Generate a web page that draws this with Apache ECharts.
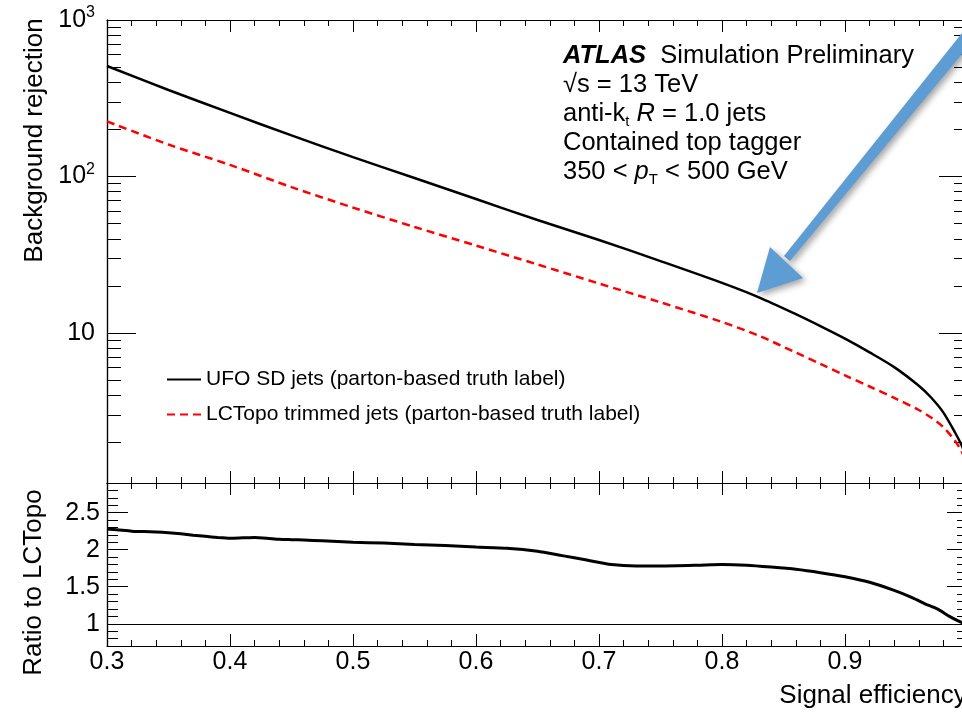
<!DOCTYPE html>
<html>
<head>
<meta charset="utf-8">
<script src="https://cdn.jsdelivr.net/npm/echarts@6/dist/echarts.min.js"></script>
<style>
html,body{margin:0;padding:0;background:#fff;}
#chart{width:962px;height:712px;}
</style>
</head>
<body>
<div id="chart"></div>
<script>
// ---- Data ----
const effTop = [0.30,0.35,0.40,0.45,0.50,0.55,0.60,0.65,0.70,0.75,0.80,0.83,0.86,0.88,0.90,0.92,0.94,0.96,0.97,0.98,0.99,0.995,0.998];
const ufoRejection = [508,357,255,183,133,97.8,71.8,52.7,39.3,28.8,20.9,16.9,13.2,11.07,9.2,7.52,6.05,4.6,3.87,3.1,2.27,1.90,1.64];
const lcTopoRejection = [225,160,118.6,85.5,63.3,47.6,36.2,27.4,20.7,15.7,11.75,9.6,7.5,6.34,5.36,4.55,3.85,3.22,2.88,2.50,2.02,1.74,1.55];

const effRatio = [0.300,0.310,0.320,0.330,0.340,0.350,0.360,0.370,0.380,0.390,0.400,0.410,0.420,0.430,0.440,0.450,0.460,0.475,0.500,0.525,0.550,0.575,0.600,0.625,0.650,0.670,0.690,0.710,0.730,0.750,0.780,0.800,0.820,0.840,0.860,0.880,0.900,0.920,0.940,0.955,0.965,0.975,0.985,0.992,0.997];
const ratioValues = [2.28,2.265,2.25,2.245,2.24,2.23,2.215,2.195,2.18,2.165,2.155,2.16,2.165,2.155,2.14,2.135,2.13,2.12,2.10,2.09,2.07,2.055,2.035,2.02,1.98,1.92,1.86,1.80,1.78,1.78,1.79,1.80,1.79,1.765,1.735,1.69,1.635,1.56,1.45,1.35,1.27,1.20,1.10,1.04,1.00];

const topMajorTicks = [10,100,1000];
const topMinorTicks = [2,3,4,5,6,7,8,9,20,30,40,50,60,70,80,90,200,300,400,500,600,700,800,900];
const ratioMajorTicks = [1,1.5,2,2.5];
const ratioMinorTicks = [0.8,0.9,1.1,1.2,1.3,1.4,1.6,1.7,1.8,1.9,2.1,2.2,2.3,2.4,2.6,2.7,2.8];

const seriesNames = ['UFO SD jets (parton-based truth label)','LCTopo trimmed jets (parton-based truth label)'];

// ---- Chart ----
const FONT = '"Liberation Sans", Arial, Helvetica, sans-serif';
const chart = echarts.init(document.getElementById('chart'), null, {renderer:'canvas'});

function zip(xs, ys){ return xs.map((x,i)=>[x, ys[i]]); }

const axisLineStyle = {lineStyle:{color:'#000', width:1.2}};
const tickLineStyle = {color:'#000', width:1};

function xAxisDef(gridIndex, position, showLabel){
  return {
    type:'value', gridIndex, position, min:0.3, max:1.0, interval:0.1,
    axisLine:{show:true, onZero:false, ...axisLineStyle},
    axisTick:{show:true, inside:true, length:12, lineStyle:tickLineStyle},
    minorTick:{show:true, splitNumber:5, length:6, lineStyle:tickLineStyle},
    splitLine:{show:false}, minorSplitLine:{show:false},
    axisLabel:{show:showLabel, color:'#000', fontSize:25, fontFamily:FONT, margin:4,
      showMaxLabel:false, formatter:(v)=>v.toFixed(1)}
  };
}

function yLogDef(position, ticks, len, labels){
  const d = {
    type:'log', gridIndex:0, position, min:1.1, max:1000, logBase:10,
    axisLine:{show:true, onZero:false, ...axisLineStyle},
    axisTick:{show:true, inside:true, length:len, customValues:ticks, lineStyle:tickLineStyle},
    splitLine:{show:false},
    axisLabel:{show:false}
  };
  if (labels){
    d.axisLabel = {show:true, customValues:topMajorTicks, margin:12, color:'#000', fontFamily:FONT,
      formatter:(v)=>{ const e=Math.round(Math.log10(v)); return e===1 ? '{b|10}' : '{b|10}{s|'+e+'}'; },
      rich:{ b:{fontSize:25, color:'#000', fontFamily:FONT, lineHeight:30},
             s:{fontSize:16, color:'#000', fontFamily:FONT, lineHeight:16, verticalAlign:'top'} } };
    d.name = 'Background rejection';
    d.nameLocation = 'middle';
    d.nameGap = 59;
    d.nameMoveOverlap = false;
    d.nameTextStyle = {fontSize:26, color:'#000', fontFamily:FONT, padding:[0,0,0,222]};
  }
  return d;
}

function yRatioDef(position, ticks, len, labels){
  const d = {
    type:'value', gridIndex:1, position, min:0.7, max:2.9,
    axisLine:{show:true, onZero:false, ...axisLineStyle},
    axisTick:{show:true, inside:true, length:len, customValues:ticks, lineStyle:tickLineStyle},
    splitLine:{show:false},
    axisLabel:{show:false}
  };
  if (labels){
    d.axisLabel = {show:true, customValues:ratioMajorTicks, margin:7, color:'#000', fontSize:25, fontFamily:FONT,
      formatter:(v)=>String(v)};
    d.name = 'Ratio to LCTopo';
    d.nameLocation = 'middle';
    d.nameGap = 60;
    d.nameMoveOverlap = false;
    d.nameTextStyle = {fontSize:26, color:'#000', fontFamily:FONT, padding:[0,36,0,0]};
  }
  return d;
}

const xBottom = xAxisDef(1,'bottom',true);
xBottom.name = 'Signal efficiency';
xBottom.nameLocation = 'middle';
xBottom.nameGap = 35;
xBottom.nameMoveOverlap = false;
xBottom.nameTextStyle = {fontSize:26, color:'#000', fontFamily:FONT, lineHeight:30, padding:[0,0,0,671]};

const option = {
  animation:false,
  backgroundColor:'#fff',
  textStyle:{fontFamily:FONT},
  grid:[
    {left:107, top:20, right:-6, height:463, outerBoundsMode:'none', containLabel:false},
    {left:107, top:483, right:-6, height:163, outerBoundsMode:'none', containLabel:false}
  ],
  xAxis:[
    xAxisDef(0,'bottom',false),
    xAxisDef(0,'top',false),
    xBottom,
    xAxisDef(1,'top',false)
  ],
  yAxis:[
    yLogDef('left', topMajorTicks, 29, true),
    yLogDef('left', topMinorTicks, 14, false),
    yLogDef('right', topMajorTicks, 29, false),
    yLogDef('right', topMinorTicks, 14, false),
    yRatioDef('left', ratioMajorTicks, 21, true),
    yRatioDef('left', ratioMinorTicks, 11, false),
    yRatioDef('right', ratioMajorTicks, 21, false),
    yRatioDef('right', ratioMinorTicks, 11, false)
  ],
  legend:{
    orient:'vertical', left:166, top:369, padding:0, itemWidth:34, itemHeight:14, itemGap:14,
    itemStyle:{opacity:0},
    textStyle:{fontSize:21, color:'#000', fontFamily:FONT},
    data:seriesNames, selectedMode:false
  },
  series:[
    {name:seriesNames[0], type:'line', xAxisIndex:0, yAxisIndex:0, data:zip(effTop, ufoRejection),
      symbol:'none', smooth:0.3, clip:true, lineStyle:{color:'#000', width:2.5}, itemStyle:{color:'#000'}, z:3},
    {name:seriesNames[1], type:'line', xAxisIndex:0, yAxisIndex:0, data:zip(effTop, lcTopoRejection),
      symbol:'none', smooth:0.3, clip:true, lineStyle:{color:'#ff0000', width:2.5, type:[8,5]}, itemStyle:{color:'#ff0000'}, z:2},
    {name:'Ratio', type:'line', xAxisIndex:2, yAxisIndex:4, data:zip(effRatio, ratioValues),
      symbol:'none', smooth:0.2, clip:true, lineStyle:{color:'#000', width:3}, itemStyle:{color:'#000'},
      markLine:{silent:true, symbol:'none', label:{show:false}, animation:false,
        lineStyle:{color:'#000', width:1, type:'solid'}, data:[{yAxis:1}]}}
  ],
  graphic:[
    {type:'text', x:563, y:56, style:{text:'{a|ATLAS}{n|  Simulation Preliminary}', verticalAlign:'middle', align:'left',
      rich:{a:{fontSize:25.5, fontWeight:'bold', fontStyle:'italic', fill:'#000', fontFamily:FONT},
            n:{fontSize:25.5, fill:'#000', fontFamily:FONT}}}},
    {type:'text', x:563, y:85, style:{text:'√s = 13 TeV', fontSize:25.5, fill:'#000', fontFamily:FONT, verticalAlign:'middle', align:'left'}},
    {type:'text', x:563, y:114, style:{text:'{n|anti-k}{sub|t}{n| }{i|R}{n| = 1.0 jets}', verticalAlign:'middle', align:'left',
      rich:{n:{fontSize:25.5, fill:'#000', fontFamily:FONT, lineHeight:30},
            i:{fontSize:25.5, fill:'#000', fontFamily:FONT, fontStyle:'italic', lineHeight:30},
            sub:{fontSize:15, fill:'#000', fontFamily:FONT, lineHeight:16, padding:[14,0,0,0], verticalAlign:'bottom'}}}},
    {type:'text', x:563, y:143, style:{text:'Contained top tagger', fontSize:25.5, fill:'#000', fontFamily:FONT, verticalAlign:'middle', align:'left'}},
    {type:'text', x:563, y:172, style:{text:'{n|350 < }{i|p}{sub|T}{n| < 500 GeV}', verticalAlign:'middle', align:'left',
      rich:{n:{fontSize:25.5, fill:'#000', fontFamily:FONT, lineHeight:30},
            i:{fontSize:25.5, fill:'#000', fontFamily:FONT, fontStyle:'italic', lineHeight:30},
            sub:{fontSize:15, fill:'#000', fontFamily:FONT, lineHeight:16, padding:[22,0,0,0], verticalAlign:'bottom'}}}},
    // blue annotation arrow
    {type:'polygon', z:10, shape:{points:[[982,30],[970,23],[784,256],[790,261]]},
      style:{fill:'#5e9cd4', shadowBlur:6, shadowColor:'rgba(0,0,0,0.35)', shadowOffsetX:3, shadowOffsetY:3}},
    {type:'polygon', z:10, shape:{points:[[757,293],[770,247],[803,278]]},
      style:{fill:'#5e9cd4', shadowBlur:6, shadowColor:'rgba(0,0,0,0.35)', shadowOffsetX:3, shadowOffsetY:3}}
  ]
};
chart.setOption(option);
</script>
</body>
</html>
